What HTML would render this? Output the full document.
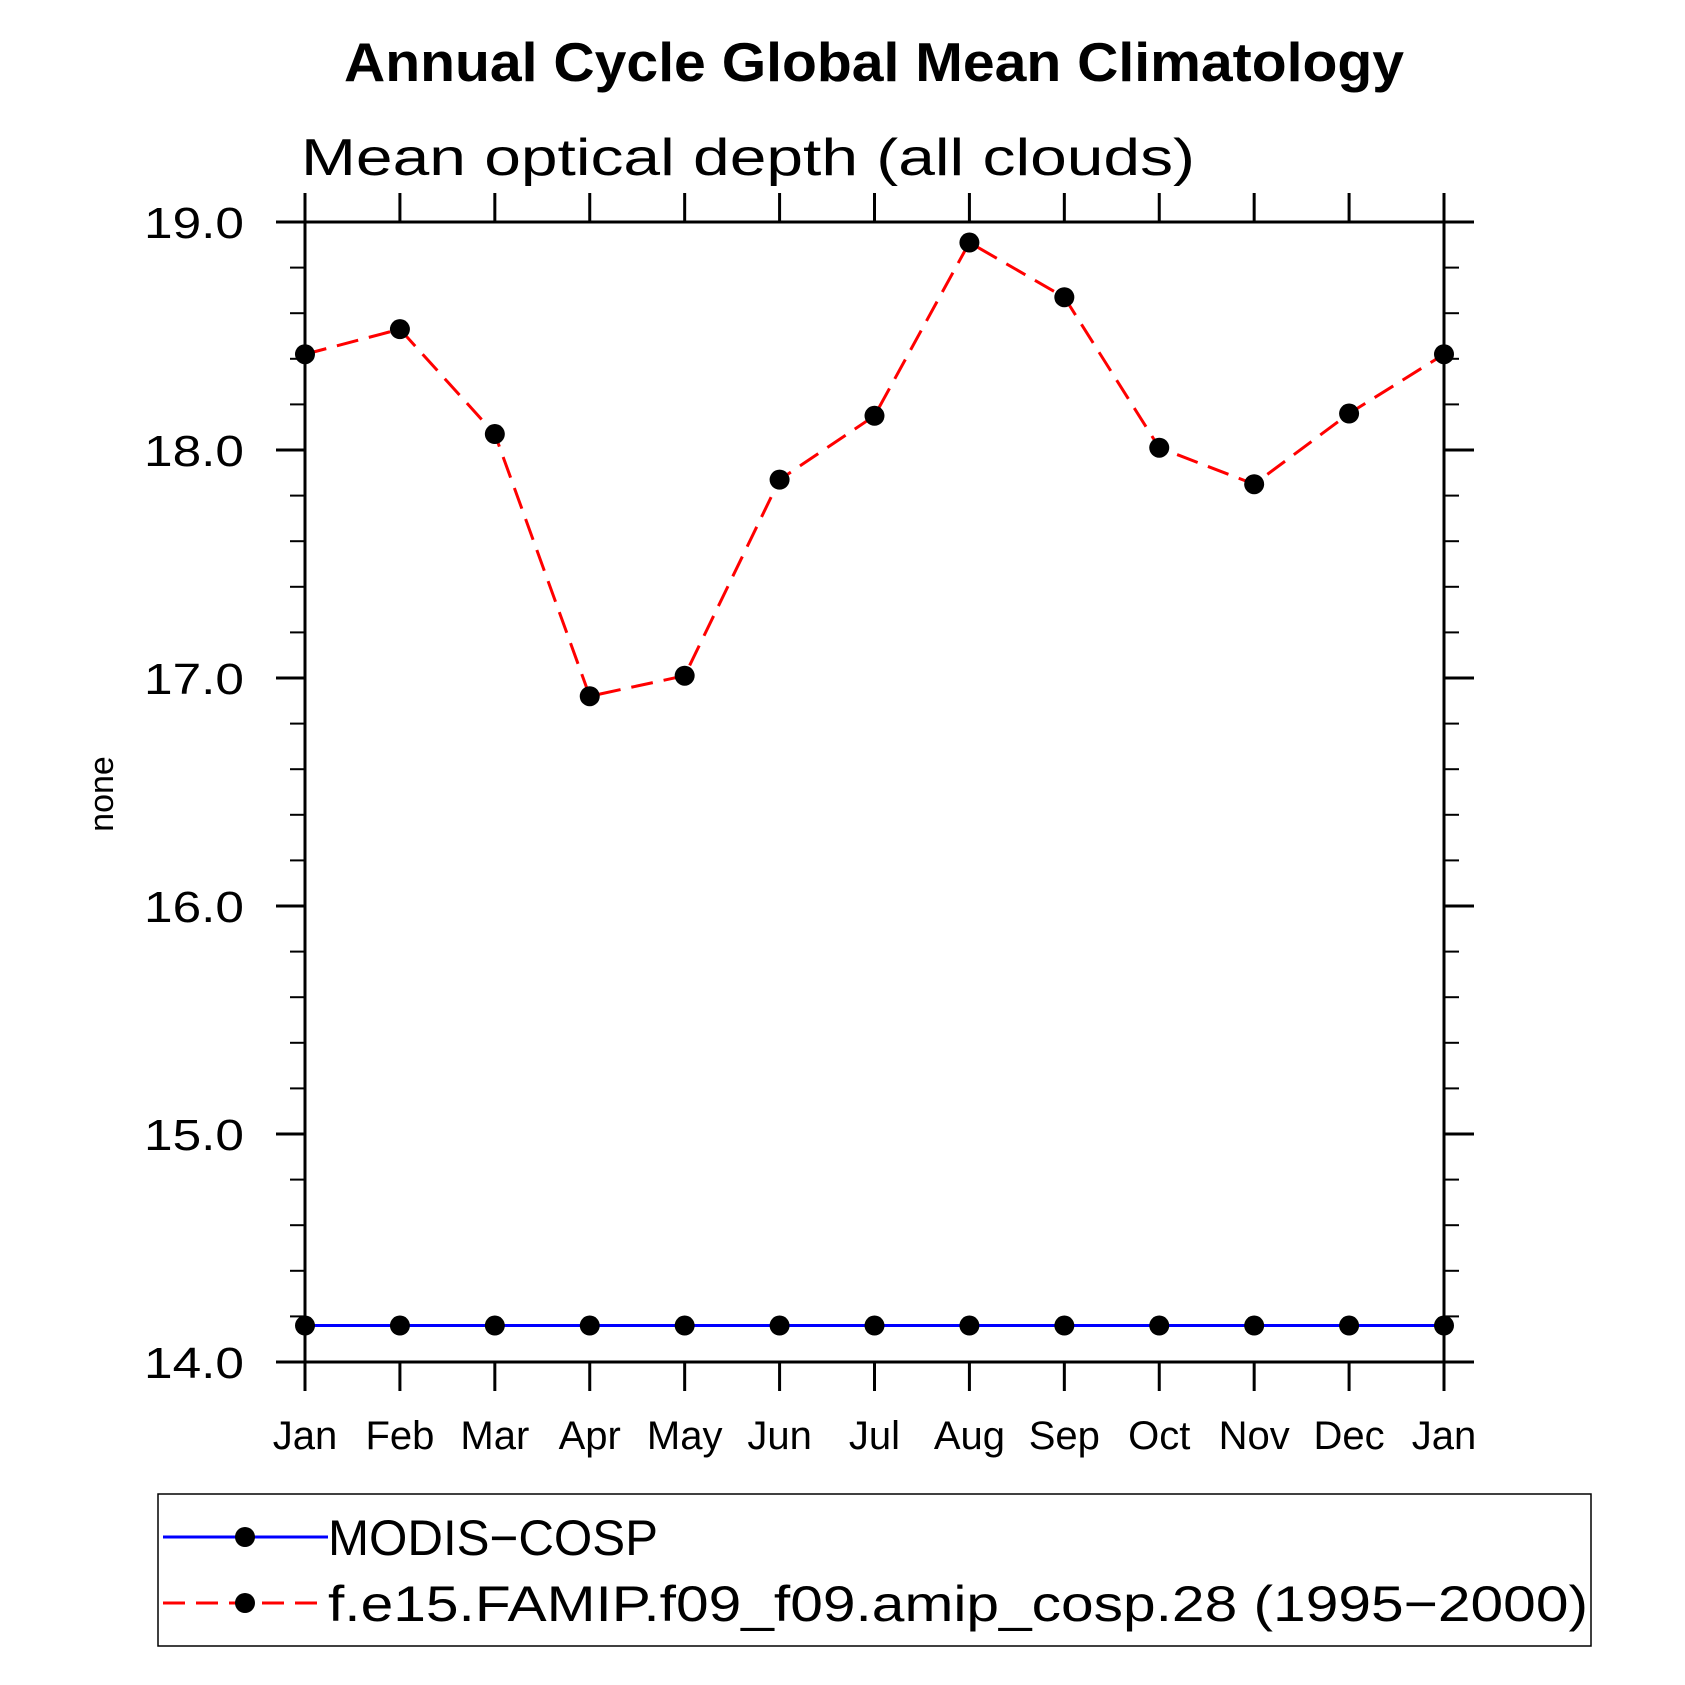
<!DOCTYPE html>
<html><head><meta charset="utf-8"><style>
html,body{margin:0;padding:0;background:#fff;}
svg{display:block;font-family:"Liberation Sans",sans-serif;}
</style></head><body>
<svg id="chart" width="1685" height="1685" viewBox="0 0 1685 1685" xmlns="http://www.w3.org/2000/svg">
<text x="874" y="81" text-anchor="middle" font-size="55" font-weight="bold" textLength="1060" lengthAdjust="spacingAndGlyphs">Annual Cycle Global Mean Climatology</text>
<text x="301" y="175" font-size="52" textLength="894" lengthAdjust="spacingAndGlyphs" font-weight="300">Mean optical depth (all clouds)</text>
<text transform="translate(113,794) rotate(-90)" text-anchor="middle" font-size="34">none</text>
<g id="axes"></g>
<g id="series"></g>
<g>
<rect x="158" y="1494" width="1433" height="152" fill="none" stroke="#000" stroke-width="1.5"/>
<g>
<line x1="163" y1="1537" x2="328" y2="1537" stroke="#00f" stroke-width="3"/>
<circle cx="245" cy="1537" r="10" fill="#000"/>
<text x="328" y="1555" font-size="50" textLength="330" lengthAdjust="spacingAndGlyphs">MODIS−COSP</text>
</g>
<g>
<line x1="163" y1="1603" x2="328" y2="1603" stroke="#f00" stroke-width="3" stroke-dasharray="22,11"/>
<circle cx="245" cy="1603" r="10" fill="#000"/>
<text x="328" y="1621" font-size="50" textLength="1260" lengthAdjust="spacingAndGlyphs">f.e15.FAMIP.f09_f09.amip_cosp.28 (1995−2000)</text>
</g>
</g>
</svg>
<script>
const months = ["Jan","Feb","Mar","Apr","May","Jun","Jul","Aug","Sep","Oct","Nov","Dec","Jan"];
const modisValues = [14.16,14.16,14.16,14.16,14.16,14.16,14.16,14.16,14.16,14.16,14.16,14.16,14.16];
const modelValues = [18.42,18.53,18.07,16.92,17.01,17.87,18.15,18.91,18.67,18.01,17.85,18.16,18.42];
const yTicks = [14,15,16,17,18,19];
const yTickLabels = ["14.0","15.0","16.0","17.0","18.0","19.0"];
const yMin = 14, yMax = 19;

const L=305, R=1444, T=222, B=1362;
const NS="http://www.w3.org/2000/svg";
function xs(i){return L + i*(R-L)/(months.length-1);}
function ys(v){return B - (v-yMin)*(B-T)/(yMax-yMin);}
function mk(tag, attrs, parent){const e=document.createElementNS(NS,tag);for(const k in attrs)e.setAttribute(k,attrs[k]);parent.appendChild(e);return e;}
const axes=document.getElementById('axes');
const series=document.getElementById('series');
const st={stroke:"#000","stroke-width":3};
let e;
e=mk('line',Object.assign({x1:276,y1:T,x2:1474,y2:T},st),axes);


e=mk('line',Object.assign({x1:276,y1:B,x2:1474,y2:B},st),axes);


e=mk('line',Object.assign({x1:L,y1:193,x2:L,y2:1391},st),axes);


e=mk('line',Object.assign({x1:R,y1:193,x2:R,y2:1391},st),axes);


months.forEach((m,i)=>{
  const x=xs(i);
  mk('line',Object.assign({x1:x,y1:193,x2:x,y2:T},st),axes);
  mk('line',Object.assign({x1:x,y1:B,x2:x,y2:1391},st),axes);
  const t=mk('text',{x:x,y:1449,"text-anchor":"middle","font-size":40},axes);
  t.textContent=m;
  
  
});
yTicks.forEach((v,i)=>{
  const y=ys(v);
  mk('line',Object.assign({x1:276,y1:y,x2:L,y2:y},st),axes);
  mk('line',Object.assign({x1:R,y1:y,x2:1474,y2:y},st),axes);
  const t=mk('text',{x:244,y:y+16,"text-anchor":"end","font-size":44,textLength:100,lengthAdjust:"spacingAndGlyphs"},axes);
  t.textContent=yTickLabels[i];
  
  
});
for(let v=yMin; v<yMax-0.01; v+=0.2){
  if(Math.abs(v-Math.round(v))<0.01) continue;
  const y=ys(v);
  mk('line',{x1:290,y1:y,x2:L,y2:y,stroke:"#000","stroke-width":2},axes);
  mk('line',{x1:R,y1:y,x2:R+15,y2:y,stroke:"#000","stroke-width":2},axes);
}
function drawSeries(vals,color,dash,name){
  const pts=vals.map((v,i)=>xs(i)+","+ys(v)).join(" ");
  const a={points:pts,fill:"none",stroke:color,"stroke-width":3};
  if(dash)a["stroke-dasharray"]=dash;
  const pl=mk('polyline',a,series);
  
  
  vals.forEach((v,i)=>{
    const c=mk('circle',{cx:xs(i),cy:ys(v),r:10,fill:"#000"},series);
    
    
  });
}
drawSeries(modisValues,"#00f",null,"modis");
drawSeries(modelValues,"#f00","22,11","model");
</script>
</body></html>
